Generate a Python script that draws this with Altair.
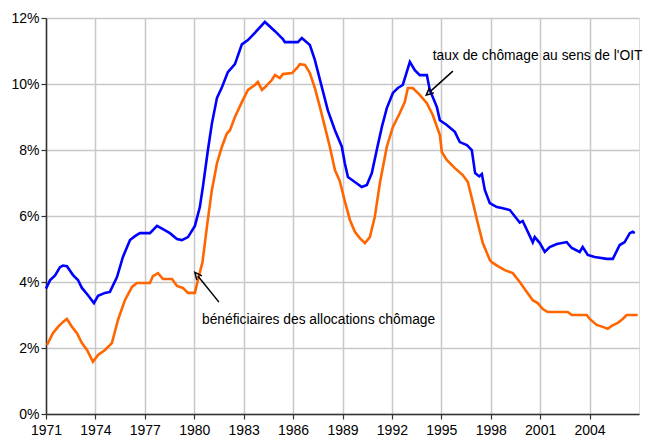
import altair as alt
import pandas as pd

# Values (unemployment rates, %)
oit_year = [1971.00, 1971.24, 1971.55, 1971.85, 1972.03, 1972.27, 1972.64, 1972.94, 1973.18, 1973.55,
            1973.91, 1974.16, 1974.58, 1974.88, 1975.31, 1975.67, 1976.10, 1976.40, 1976.70, 1977.31,
            1977.74, 1978.10, 1978.52, 1978.95, 1979.25, 1979.62, 1980.04, 1980.34, 1980.53, 1980.83,
            1981.07, 1981.38, 1981.68, 1982.04, 1982.47, 1982.89, 1983.26, 1983.68, 1984.29, 1984.90,
            1985.38, 1985.50, 1986.29, 1986.53, 1987.02, 1987.32, 1987.75, 1988.11, 1988.54, 1988.96,
            1989.14, 1989.33, 1989.75, 1990.17, 1990.48, 1990.78, 1991.08, 1991.39, 1991.69, 1992.06,
            1992.36, 1992.66, 1993.09, 1993.39, 1993.69, 1994.12, 1994.30, 1994.73, 1994.91, 1995.33,
            1995.82, 1996.12, 1996.55, 1996.85, 1997.05, 1997.30, 1997.46, 1997.64, 1997.94, 1998.37,
            1998.67, 1999.16, 1999.76, 1999.94, 2000.55, 2000.67, 2000.98, 2001.28, 2001.58, 2002.01,
            2002.61, 2002.92, 2003.40, 2003.58, 2003.89, 2004.31, 2005.04, 2005.41, 2005.83, 2006.13,
            2006.44, 2006.62, 2006.74]
oit_rate = [3.80, 4.05, 4.20, 4.45, 4.50, 4.48, 4.21, 4.06, 3.82, 3.60,
            3.36, 3.58, 3.67, 3.70, 4.15, 4.76, 5.27, 5.39, 5.48, 5.48,
            5.70, 5.60, 5.48, 5.30, 5.27, 5.36, 5.70, 6.27, 6.90, 8.00,
            8.80, 9.58, 9.90, 10.36, 10.60, 11.20, 11.33, 11.55, 11.88, 11.60,
            11.36, 11.27, 11.27, 11.39, 11.18, 10.73, 9.90, 9.20, 8.60, 8.10,
            7.60, 7.18, 7.03, 6.88, 6.94, 7.30, 8.00, 8.70, 9.27, 9.73,
            9.88, 9.97, 10.67, 10.42, 10.27, 10.27, 9.82, 9.30, 8.90, 8.76,
            8.55, 8.24, 8.15, 8.00, 7.30, 7.20, 7.27, 6.79, 6.39, 6.27,
            6.24, 6.18, 5.80, 5.85, 5.20, 5.36, 5.18, 4.91, 5.06, 5.15,
            5.21, 5.03, 4.91, 5.06, 4.82, 4.76, 4.70, 4.70, 5.12, 5.21,
            5.48, 5.52, 5.48]

alloc_year = [1971.06, 1971.42, 1971.73, 1972.03, 1972.27, 1972.58, 1972.88, 1973.18, 1973.49, 1973.85,
              1974.16, 1974.58, 1975.00, 1975.37, 1975.79, 1976.22, 1976.52, 1977.31, 1977.49, 1977.80,
              1978.10, 1978.65, 1978.95, 1979.31, 1979.62, 1980.04, 1980.22, 1980.50, 1980.80, 1981.07,
              1981.38, 1981.68, 1981.98, 1982.17, 1982.47, 1982.89, 1983.26, 1983.68, 1983.86, 1984.11,
              1984.29, 1984.71, 1984.90, 1985.20, 1985.38, 1985.93, 1986.23, 1986.41, 1986.72, 1987.02,
              1987.32, 1987.63, 1987.93, 1988.23, 1988.54, 1988.84, 1989.14, 1989.45, 1989.75, 1990.05,
              1990.36, 1990.66, 1990.96, 1991.27, 1991.69, 1992.06, 1992.48, 1992.78, 1992.97, 1993.27,
              1993.69, 1994.12, 1994.48, 1994.91, 1995.03, 1995.33, 1995.82, 1996.30, 1996.61, 1996.91,
              1997.21, 1997.52, 1997.94, 1998.06, 1998.43, 1998.85, 1999.34, 1999.76, 2000.19, 2000.55,
              2000.85, 2001.16, 2001.46, 2002.67, 2002.92, 2003.83, 2004.01, 2004.43, 2004.80, 2005.10,
              2005.34, 2005.71, 2006.01, 2006.25, 2006.92]
alloc_rate = [2.09, 2.45, 2.64, 2.79, 2.88, 2.64, 2.45, 2.15, 1.94, 1.58,
              1.79, 1.94, 2.15, 2.85, 3.45, 3.85, 3.97, 3.97, 4.18, 4.27,
              4.09, 4.09, 3.88, 3.82, 3.67, 3.67, 4.06, 4.60, 5.79, 6.79,
              7.60, 8.10, 8.50, 8.60, 9.00, 9.45, 9.82, 9.97, 10.06, 9.82,
              9.90, 10.12, 10.27, 10.18, 10.30, 10.33, 10.48, 10.60, 10.58, 10.33,
              9.88, 9.30, 8.70, 8.10, 7.39, 7.05, 6.45, 5.88, 5.52, 5.33,
              5.18, 5.36, 5.97, 7.00, 8.10, 8.70, 9.12, 9.45, 9.88, 9.88,
              9.67, 9.42, 9.06, 8.45, 7.94, 7.70, 7.45, 7.24, 7.03, 6.42,
              5.79, 5.18, 4.67, 4.60, 4.48, 4.36, 4.27, 4.00, 3.70, 3.45,
              3.36, 3.18, 3.09, 3.09, 3.00, 3.00, 2.88, 2.70, 2.64, 2.58,
              2.67, 2.76, 2.88, 3.00, 3.00]

series_names = ["taux de chômage au sens de l'OIT", "bénéficiaires des allocations chômage"]
series_colors = ["#0000FF", "#FF6600"]

x_ticks = [1971, 1974, 1977, 1980, 1983, 1986, 1989, 1992, 1995, 1998, 2001, 2004]
y_ticks = [0, 2, 4, 6, 8, 10, 12]

# annotation labels and arrows (anchored in data coordinates)
label_text = series_names
label_year = [1994.48, 1980.47]
label_rate = [10.85, 2.85]
arrow_from_year = [1995.70, 1981.50]
arrow_from_rate = [10.39, 3.39]
arrow_to_year = [1994.30, 1980.22]
arrow_to_rate = [9.76, 4.18]
arrow_angle = [228, 321]

df = pd.concat([
    pd.DataFrame({"year": oit_year, "rate": oit_rate, "series": series_names[0]}),
    pd.DataFrame({"year": alloc_year, "rate": alloc_rate, "series": series_names[1]}),
])
labels = pd.DataFrame({"year": label_year, "rate": label_rate, "text": label_text})
arrows = pd.DataFrame({"x1": arrow_from_year, "y1": arrow_from_rate,
                       "x2": arrow_to_year, "y2": arrow_to_rate, "angle": arrow_angle})

FONT = "'Liberation Sans', Arial, sans-serif"

xs = alt.Scale(domain=[1971, 2007], nice=False, zero=False)
ys = alt.Scale(domain=[0, 12], nice=False, zero=True)

x_axis = alt.Axis(values=x_ticks, format="d", title=None, grid=True, gridColor="#c8c8c8",
                  gridWidth=1.5, domainColor="#333333", domainWidth=1.5, tickColor="#333333",
                  tickSize=5, tickWidth=1.2, labelFont=FONT, labelFontSize=14, labelColor="#000000",
                  labelPadding=4, labelFlush=False, labelOverlap=False)
y_axis = alt.Axis(values=y_ticks, labelExpr="datum.value + '%'", title=None, grid=True,
                  gridColor="#c8c8c8", gridWidth=1.5, domainColor="#333333", domainWidth=1.5,
                  tickColor="#333333", tickSize=5, tickWidth=1.2, labelFont=FONT, labelFontSize=14,
                  labelColor="#000000", labelPadding=2)

lines = alt.Chart(df).mark_line(strokeWidth=2.6).encode(
    x=alt.X("year:Q", scale=xs, axis=x_axis),
    y=alt.Y("rate:Q", scale=ys, axis=y_axis),
    color=alt.Color("series:N", scale=alt.Scale(domain=series_names, range=series_colors), legend=None),
    order=alt.Order("year:Q"),
)

text = alt.Chart(labels).mark_text(align="left", baseline="middle", font=FONT, fontSize=13.8,
                                   color="#000000").encode(
    x=alt.X("year:Q", scale=xs), y=alt.Y("rate:Q", scale=ys), text="text:N")

arrow_lines = alt.Chart(arrows).mark_rule(color="#000000", strokeWidth=1.5).encode(
    x=alt.X("x1:Q", scale=xs), y=alt.Y("y1:Q", scale=ys), x2="x2:Q", y2="y2:Q")

heads = alt.Chart(arrows).mark_point(shape="M -0.7 0.5 L 0 -1 L 0.7 0.5", filled=False,
                                     color="#000000", strokeWidth=1.5, size=90, opacity=1).encode(
    x=alt.X("x2:Q", scale=xs), y=alt.Y("y2:Q", scale=ys), angle=alt.Angle("angle:Q", scale=None))

chart = alt.layer(lines, arrow_lines, heads, text).properties(
    width=593, height=396,
    autosize=alt.AutoSizeParams(type="none"),
    padding={"left": 38, "top": 10, "right": 10, "bottom": 26},
).configure_view(stroke="#333333", strokeWidth=1.5).configure(background="#ffffff")

chart.save("out.html", embed_options={"renderer": "svg", "actions": False})
